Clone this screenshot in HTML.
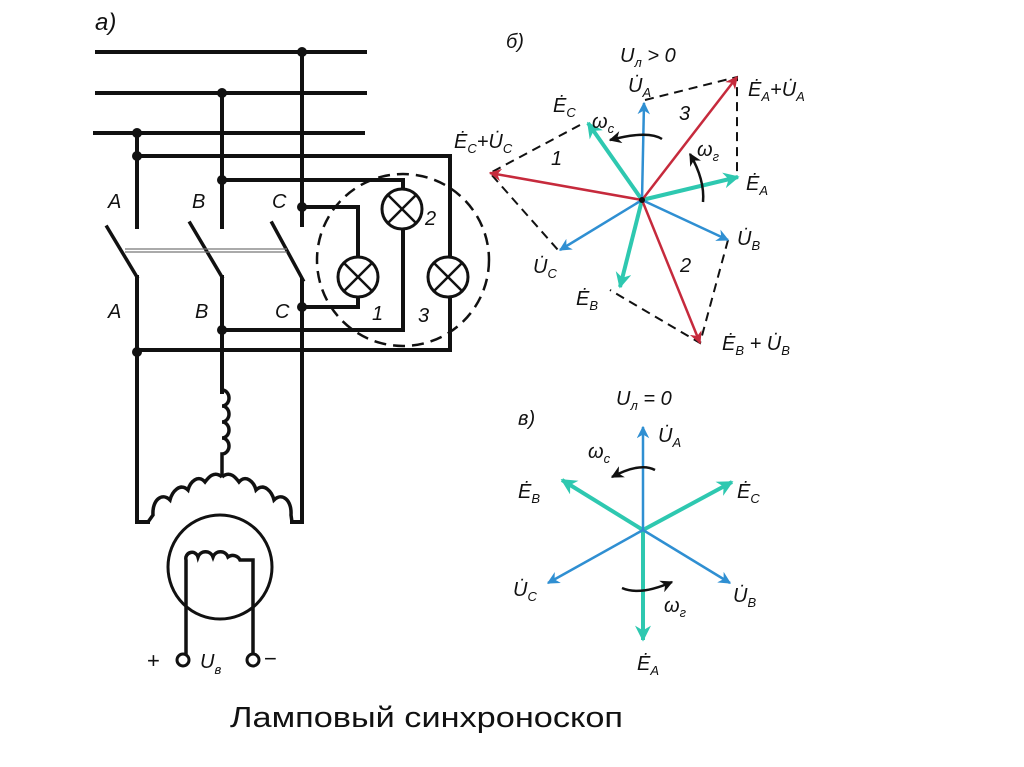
<!DOCTYPE html>
<html><head><meta charset="utf-8"><style>
html,body{margin:0;padding:0;background:#fff;}
svg{display:block;}
text{font-family:"Liberation Sans","DejaVu Sans",sans-serif;font-style:italic;fill:#111;}
</style></head><body>
<svg width="1024" height="767" viewBox="0 0 1024 767" xmlns="http://www.w3.org/2000/svg">
<defs>
<marker id="mb" viewBox="0 0 10 10" refX="9" refY="5" markerWidth="5" markerHeight="5" orient="auto"><path d="M0,0 L10,5 L0,10 L3,5z" fill="#2f8fd2"/></marker>
<marker id="mt" viewBox="0 0 10 10" refX="9" refY="5" markerWidth="4" markerHeight="4" orient="auto"><path d="M0,0 L10,5 L0,10 L3,5z" fill="#2ec8b0"/></marker>
<marker id="mr" viewBox="0 0 10 10" refX="9" refY="5" markerWidth="5" markerHeight="5" orient="auto"><path d="M0,0 L10,5 L0,10 L3,5z" fill="#c62a3c"/></marker>
<marker id="mk" viewBox="0 0 10 10" refX="9" refY="5" markerWidth="5" markerHeight="5" orient="auto"><path d="M0,0 L10,5 L0,10 L3,5z" fill="#111"/></marker>
</defs>
<rect width="1024" height="767" fill="#fff"/>

<!-- Circuit a) -->
<g stroke="#111" stroke-width="4" fill="none" stroke-linecap="square">
<line x1="97" y1="52" x2="365" y2="52"/>
<line x1="97" y1="93" x2="365" y2="93"/>
<line x1="95" y1="133" x2="363" y2="133"/>
<line x1="137" y1="133" x2="137" y2="227"/>
<line x1="222" y1="93" x2="222" y2="227"/>
<line x1="302" y1="52" x2="302" y2="225"/>
<polyline points="137,156 450,156 450,350 137,350"/>
<polyline points="222,180 403,180 403,190"/>
<polyline points="302,207 358,207 358,258"/>
<polyline points="358,297 358,307 302,307"/>
<polyline points="403,229 403,330 222,330"/>
<line x1="450" y1="258" x2="450" y2="258"/>
<!-- switches -->
<line x1="107" y1="227" x2="137" y2="277" stroke-width="3.5"/>
<line x1="190" y1="223" x2="222" y2="277" stroke-width="3.5"/>
<line x1="272" y1="223" x2="303" y2="280" stroke-width="3.5"/>
<line x1="137" y1="277" x2="137" y2="522"/>
<line x1="302" y1="280" x2="302" y2="522"/>
<line x1="222" y1="277" x2="222" y2="392"/>
<line x1="137" y1="522" x2="148" y2="522"/>
<line x1="302" y1="522" x2="292" y2="522"/>
</g>
<line x1="125" y1="249" x2="287" y2="249" stroke="#777" stroke-width="1.2"/>
<line x1="125" y1="252" x2="287" y2="252" stroke="#777" stroke-width="1.2"/>
<g fill="#111">
<circle cx="302" cy="52" r="5"/><circle cx="222" cy="93" r="5"/><circle cx="137" cy="133" r="5"/>
<circle cx="137" cy="156" r="5"/><circle cx="222" cy="180" r="5"/><circle cx="302" cy="207" r="5"/>
<circle cx="302" cy="307" r="5"/><circle cx="222" cy="330" r="5"/><circle cx="137" cy="352" r="5"/>
</g>
<!-- lamps -->
<g stroke="#111" stroke-width="3" fill="#fff">
<circle cx="402" cy="209" r="20"/><circle cx="358" cy="277" r="20"/><circle cx="448" cy="277" r="20"/>
</g>
<g stroke="#111" stroke-width="2.5">
<path d="M388,195 L416,223 M416,195 L388,223"/>
<path d="M344,263 L372,291 M372,263 L344,291"/>
<path d="M434,263 L462,291 M462,263 L434,291"/>
</g>
<circle cx="403" cy="260" r="86" fill="none" stroke="#111" stroke-width="2.5" stroke-dasharray="12,7"/>
<text x="95" y="30" font-size="24">a)</text>
<text x="108" y="208" font-size="20">A</text>
<text x="192" y="208" font-size="20">B</text>
<text x="272" y="208" font-size="20">C</text>
<text x="108" y="318" font-size="20">A</text>
<text x="195" y="318" font-size="20">B</text>
<text x="275" y="318" font-size="20">C</text>
<text x="425" y="225" font-size="20">2</text>
<text x="372" y="320" font-size="20">1</text>
<text x="418" y="322" font-size="20">3</text>
<!-- generator windings -->
<g stroke="#111" stroke-width="3.5" fill="none">
<path d="M222,390 a7,8 0 1 1 0,16 a7,8 0 1 1 0,16 a7,8 0 1 1 0,16 a7,8 0 1 1 0,16 L222,472 L222,477"/>
<path d="M222,477 C214,470 208,478 205,482 C198,474 190,482 188,490 C180,482 172,492 170,500 C162,492 152,500 153,515 L148,522"/>
<path d="M222,477 C230,470 236,478 239,482 C246,474 254,482 256,490 C264,482 272,492 274,500 C282,492 292,500 291,515 L292,522"/>
<circle cx="220" cy="567" r="52" stroke-width="3"/>
<path d="M186,655 L186,560 a6,6 0 0 1 12,-3 a8,8 0 0 1 15,0 a8,8 0 0 1 15,0 a8,8 0 0 1 12,3 L253,560 L253,655"/>
</g>
<circle cx="183" cy="660" r="6" fill="#fff" stroke="#111" stroke-width="3"/>
<circle cx="253" cy="660" r="6" fill="#fff" stroke="#111" stroke-width="3"/>
<text x="147" y="668" font-size="22" style="font-style:normal">+</text>
<text x="264" y="666" font-size="22" style="font-style:normal">−</text>
<text x="200" y="668" font-size="20">U<tspan font-size="13" dy="6">в</tspan></text>

<!-- Diagram б -->
<g stroke-width="2" fill="none" stroke="#111" stroke-dasharray="9,6">
<polyline points="645,100 737,77 737,177"/>
<polyline points="728,240 700,343 610,290"/>
<polyline points="580,125 490,173 558,250"/>
</g>
<g stroke-width="4" fill="none">
<line x1="642" y1="200" x2="738" y2="177" stroke="#2ec8b0" marker-end="url(#mt)"/>
<line x1="642" y1="200" x2="620" y2="287" stroke="#2ec8b0" marker-end="url(#mt)"/>
<line x1="642" y1="200" x2="588" y2="123" stroke="#2ec8b0" marker-end="url(#mt)"/>
</g>
<g stroke-width="2.5" fill="none">
<line x1="642" y1="200" x2="644" y2="103" stroke="#2f8fd2" marker-end="url(#mb)"/>
<line x1="642" y1="200" x2="728" y2="240" stroke="#2f8fd2" marker-end="url(#mb)"/>
<line x1="642" y1="200" x2="560" y2="250" stroke="#2f8fd2" marker-end="url(#mb)"/>
<line x1="642" y1="200" x2="737" y2="77" stroke="#c62a3c" marker-end="url(#mr)"/>
<line x1="642" y1="200" x2="700" y2="343" stroke="#c62a3c" marker-end="url(#mr)"/>
<line x1="642" y1="200" x2="490" y2="173" stroke="#c62a3c" marker-end="url(#mr)"/>
<path d="M662,139 Q648,130 610,140" stroke="#111" marker-end="url(#mk)"/>
<path d="M703,202 Q705,180 690,154" stroke="#111" marker-end="url(#mk)"/>
</g>
<circle cx="642" cy="200" r="3" fill="#111"/>
<g font-size="20">
<text x="506" y="48">б)</text>
<text x="620" y="62">U<tspan font-size="13" dy="5">л</tspan><tspan dy="-5"> &gt; 0</tspan></text>
<text x="628" y="92">U̇<tspan font-size="13" dy="5">A</tspan></text>
<text x="553" y="112">Ė<tspan font-size="13" dy="5">C</tspan></text>
<text x="454" y="148">Ė<tspan font-size="13" dy="5">C</tspan><tspan dy="-5">+U̇</tspan><tspan font-size="13" dy="5">C</tspan></text>
<text x="592" y="128">ω<tspan font-size="13" dy="5">c</tspan></text>
<text x="679" y="120">3</text>
<text x="551" y="165">1</text>
<text x="748" y="96">Ė<tspan font-size="13" dy="5">A</tspan><tspan dy="-5">+U̇</tspan><tspan font-size="13" dy="5">A</tspan></text>
<text x="697" y="156">ω<tspan font-size="13" dy="5">г</tspan></text>
<text x="746" y="190">Ė<tspan font-size="13" dy="5">A</tspan></text>
<text x="737" y="245">U̇<tspan font-size="13" dy="5">B</tspan></text>
<text x="680" y="272">2</text>
<text x="533" y="273">U̇<tspan font-size="13" dy="5">C</tspan></text>
<text x="576" y="305">Ė<tspan font-size="13" dy="5">B</tspan></text>
<text x="722" y="350">Ė<tspan font-size="13" dy="5">B</tspan><tspan dy="-5"> + U̇</tspan><tspan font-size="13" dy="5">B</tspan></text>
</g>

<!-- Diagram в -->
<g stroke-width="4" fill="none" stroke="#2ec8b0">
<line x1="643" y1="530" x2="562" y2="480" marker-end="url(#mt)"/>
<line x1="643" y1="530" x2="732" y2="482" marker-end="url(#mt)"/>
<line x1="643" y1="530" x2="643" y2="640" marker-end="url(#mt)"/>
</g>
<g stroke-width="2.5" fill="none" stroke="#2f8fd2">
<line x1="643" y1="530" x2="643" y2="427" marker-end="url(#mb)"/>
<line x1="643" y1="530" x2="548" y2="583" marker-end="url(#mb)"/>
<line x1="643" y1="530" x2="730" y2="583" marker-end="url(#mb)"/>
</g>
<g stroke-width="2.5" fill="none" stroke="#111">
<path d="M655,470 Q640,462 612,477" marker-end="url(#mk)"/>
<path d="M622,588 Q640,596 672,582" marker-end="url(#mk)"/>
</g>
<g font-size="20">
<text x="518" y="425">в)</text>
<text x="616" y="405">U<tspan font-size="13" dy="5">л</tspan><tspan dy="-5"> = 0</tspan></text>
<text x="658" y="442">U̇<tspan font-size="13" dy="5">A</tspan></text>
<text x="588" y="458">ω<tspan font-size="13" dy="5">c</tspan></text>
<text x="518" y="498">Ė<tspan font-size="13" dy="5">B</tspan></text>
<text x="737" y="498">Ė<tspan font-size="13" dy="5">C</tspan></text>
<text x="513" y="596">U̇<tspan font-size="13" dy="5">C</tspan></text>
<text x="733" y="602">U̇<tspan font-size="13" dy="5">B</tspan></text>
<text x="664" y="612">ω<tspan font-size="13" dy="5">г</tspan></text>
<text x="637" y="670">Ė<tspan font-size="13" dy="5">A</tspan></text>
</g>

<text x="230" y="727" font-size="29" textLength="393" lengthAdjust="spacingAndGlyphs" style="font-style:normal">Ламповый синхроноскоп</text>
</svg>
</body></html>
